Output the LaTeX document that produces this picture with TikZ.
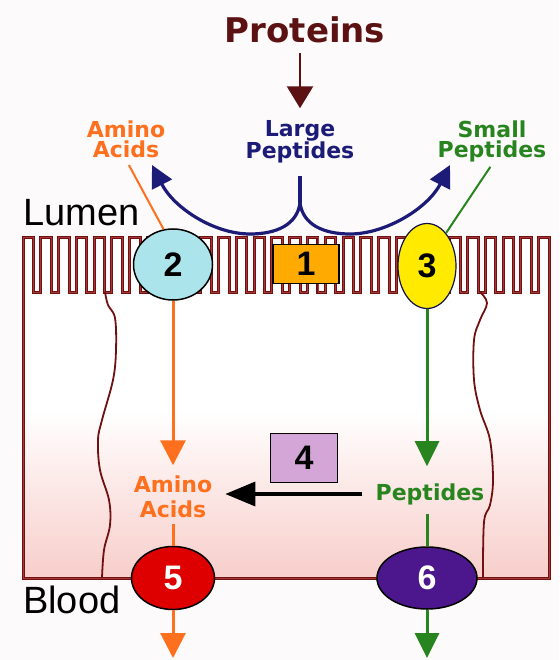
\documentclass[tikz,border=0pt]{standalone}
\usepackage{fontspec}
\setmainfont{DejaVu Sans}
\newfontfamily\arialfont{Liberation Sans}
\usetikzlibrary{shapes.geometric, arrows.meta, positioning, calc}
\definecolor{mybg}{RGB}{253,250,252}
\definecolor{mybrown}{RGB}{92,18,18}
\definecolor{mymembrane}{RGB}{112,16,16}
\definecolor{mymembranelt}{RGB}{165,55,55}
\definecolor{mypink}{RGB}{247,206,202}
\definecolor{mynavy}{RGB}{28,28,120}
\definecolor{myorange}{RGB}{255,112,30}
\definecolor{mygreen}{RGB}{40,132,30}
\definecolor{mycyan}{RGB}{172,228,235}
\definecolor{myamber}{RGB}{255,170,0}
\definecolor{myyellow}{RGB}{255,234,0}
\definecolor{mylilac}{RGB}{212,166,216}
\definecolor{myred}{RGB}{222,0,0}
\definecolor{mypurple}{RGB}{76,22,140}
\newcommand{\villipath}{(23,578) -- (23,237)
    \foreach \i in {0,...,28} {
      -- ({23+\i*17.78+10.5},237) -- ({23+\i*17.78+10.5},292)
      -- ({23+(\i+1)*17.78},292) -- ({23+(\i+1)*17.78},237)
    } -- (549,237) -- (549,578) -- cycle}
\tikzset{
  lbl/.style={font=\fontsize{22}{20}\selectfont\bfseries, align=center, inner sep=2pt},
  biglbl/.style={font=\arialfont\fontsize{38}{38}\selectfont, inner sep=0pt},
  numbox/.style={rectangle, draw=black, line width=1.5pt,
    font=\arialfont\fontsize{34}{34}\selectfont\bfseries, inner sep=0pt},
  numoval/.style={ellipse, draw=black, line width=1.5pt,
    font=\arialfont\fontsize{34}{34}\selectfont\bfseries, inner sep=0pt},
  brownarrow/.style={-{Triangle[length=22pt,width=26pt]}, line width=2.6pt, color=mybrown},
  navyarrow/.style={-{Triangle[length=22pt,width=22pt]}, line width=3.2pt, color=mynavy},
  orangearrow/.style={-{Triangle[length=25pt,width=25pt]}, line width=3pt, color=myorange},
  greenarrow/.style={-{Triangle[length=25pt,width=24pt]}, line width=3pt, color=mygreen},
  blackarrow/.style={-{Triangle[length=30pt,width=24pt]}, line width=3.4pt, color=black},
  cellwall/.style={line width=1.8pt, color=mymembrane}
}
\begin{document}
\begin{tikzpicture}[x=1pt, y=-1pt]
  \useasboundingbox (0,0) rectangle (559,660);
  \fill[mybg] (0,0) rectangle (559,660);

  % Cell with microvilli
  \fill[white] \villipath;
  \shade[top color=white, bottom color=mypink] (23,410) rectangle (549,578);
  \draw[line width=3pt, mymembrane, line join=miter] \villipath;
  \draw[line width=0.9pt, mymembranelt, line join=miter] \villipath;
  % Cell junctions
  \draw[cellwall] plot[smooth, tension=0.6] coordinates {(105,292) (108,305) (115,318) (116,350) (113,380) (102,420) (98,440) (100,470) (109,500) (110,525) (104,550) (102,578)};
  \draw[cellwall] plot[smooth, tension=0.6] coordinates {(480,292) (487,303) (480,320) (474,340) (474,380) (480,410) (490,440) (493,480) (490,505) (484,522) (483,578)};

  % Labels
  \node[font=\fontsize{34}{34}\selectfont\bfseries, text=mybrown, inner sep=2pt] (proteins) at (305,29.5) {Proteins};
  \node[lbl, text=mynavy] (large) at (300,142) {Large\\Peptides};
  \node[lbl, text=myorange] (aminoTop) at (126,139) {Amino\\Acids};
  \node[lbl, text=mygreen] (smallPep) at (492,141.5) {Small\\Peptides};
  \node[biglbl, anchor=base west] (lumen) at (23,225) {Lumen};
  \node[biglbl, anchor=base west] (blood) at (23,613) {Blood};
  \node[lbl, text=myorange, font=\fontsize{22}{25}\selectfont\bfseries] (aminoLow) at (173,496.5) {Amino\\Acids};
  \node[lbl, text=mygreen] (pepLow) at (430,494) {Peptides};

  % Transporters
  \node[numoval, fill=mycyan, minimum width=79pt, minimum height=71pt] (t2) at (173,264.5) {2};
  \node[numbox, fill=myamber, minimum width=66pt, minimum height=39pt] (t1) at (306,264) {1};
  \node[numoval, fill=myyellow, draw=mynavy!60!black, line width=1.2pt, minimum width=58pt, minimum height=85pt] (t3) at (427,266) {3};
  \node[numbox, fill=mylilac, minimum width=67pt, minimum height=49pt] (t4) at (304,458) {4};
  \node[numoval, fill=myred, text=white, minimum width=83pt, minimum height=63pt] (t5) at (173,578) {5};
  \node[numoval, fill=mypurple, text=white, minimum width=100pt, minimum height=62pt] (t6) at (427,578) {6};

  % Digestion in the lumen
  \coordinate (fork) at (300,203);
  \coordinate (tipL) at (152,165);
  \coordinate (tipR) at (450,165);
  \draw[brownarrow, shorten <=8pt, shorten >=10pt] (large.north |- proteins.south) -- (large.north);
  \draw[navyarrow, -] (large.south) ++(0,10) -- (fork);
  \draw[navyarrow] (fork) .. controls (297,225) and (276,234) .. (250,234)
    .. controls (214,234) and (174,208) .. (tipL);
  \draw[navyarrow] (fork) .. controls (303,225) and (324,234) .. (350,234)
    .. controls (386,234) and (428,208) .. (tipR);
  \draw[myorange, line width=2pt, shorten <=6pt] (aminoTop.south) -- (t2.105);
  \draw[mygreen, line width=2pt, shorten <=3pt] (smallPep.south) -- (t3.60);

  % Transport through the cell
  \draw[orangearrow, shorten >=8pt] (t2.south) -- (t2.south |- aminoLow.north);
  \draw[myorange, line width=3pt, shorten <=4pt] (t5.north |- aminoLow.south) -- (t5.north);
  \draw[greenarrow, shorten >=15pt] (t3.south) -- (t3.south |- pepLow.north);
  \draw[mygreen, line width=3pt, shorten <=7pt] (t6.north |- pepLow.south) -- (t6.north);
  \draw[blackarrow, shorten <=11pt, shorten >=11pt] (pepLow.west) -- (pepLow.west -| aminoLow.east);

  % Into the blood
  \coordinate (bot5) at (173,658);
  \coordinate (bot6) at (427,658);
  \draw[orangearrow] (t5.south) -- (bot5);
  \draw[greenarrow] (t6.south) -- (bot6);
\end{tikzpicture}
\end{document}
